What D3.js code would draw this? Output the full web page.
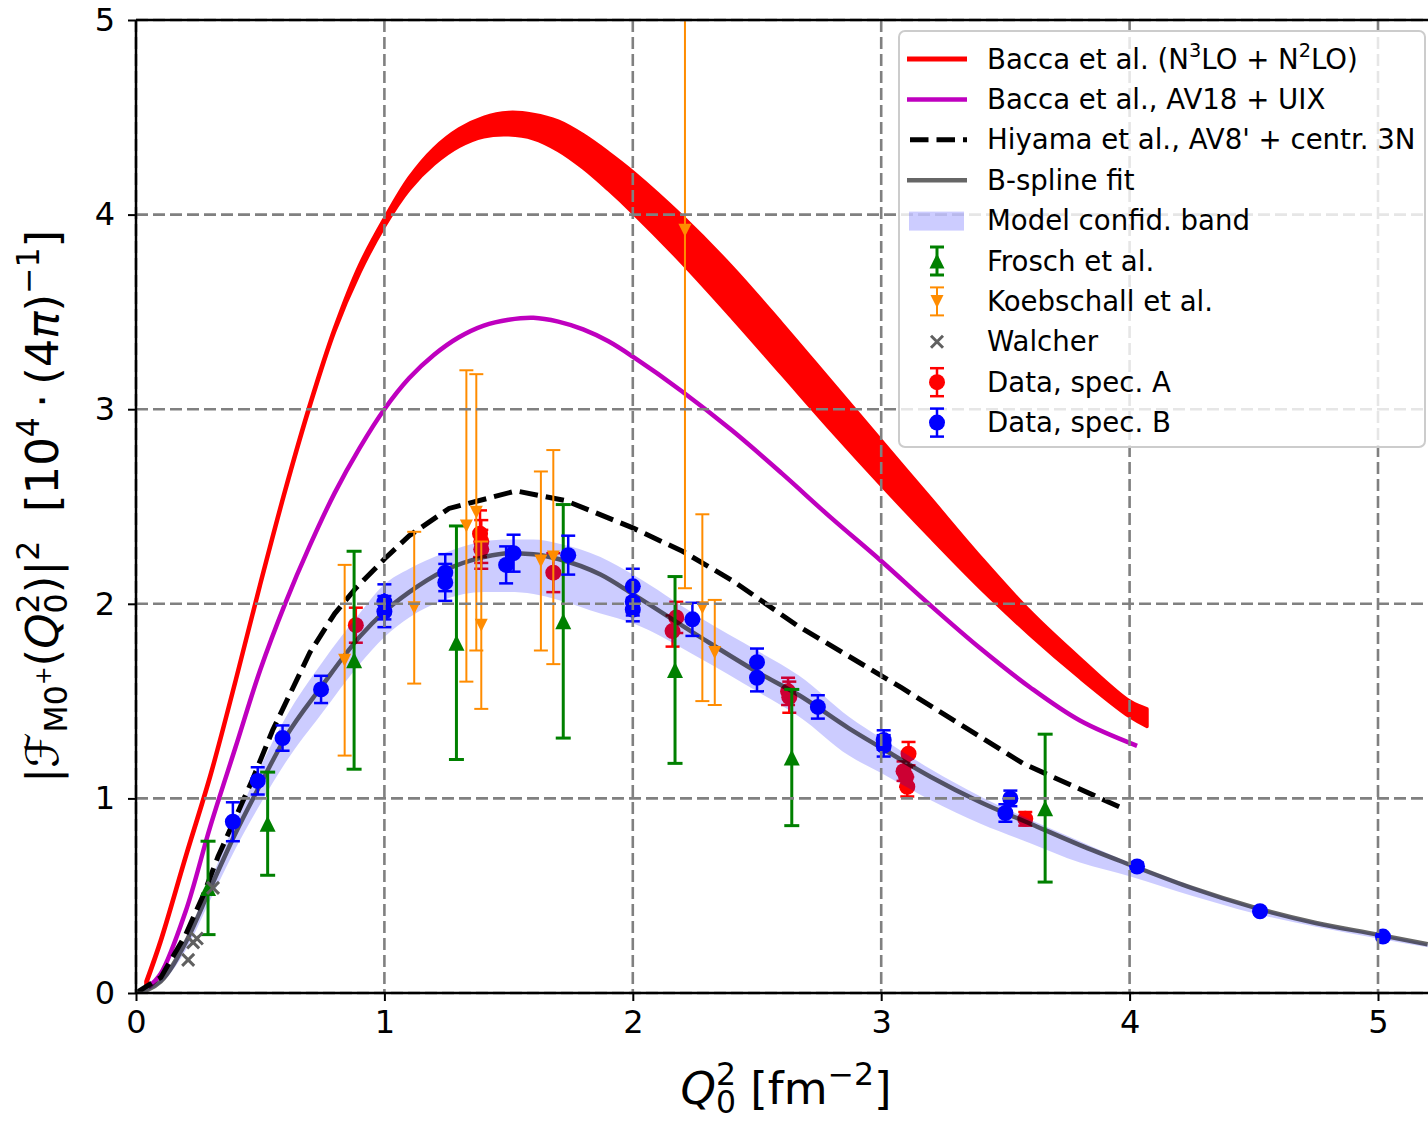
<!DOCTYPE html>
<html><head><meta charset="utf-8">
<script src="https://cdn.jsdelivr.net/npm/d3@7/dist/d3.min.js"></script>
<style>
body{margin:0;background:#fff}
text{font-family:"DejaVu Sans",sans-serif}
</style>
</head><body>
<svg id="c" width="1428" height="1123"></svg>
<script>
// ---------------- data ----------------
const xTicks = [0, 1, 2, 3, 4, 5];
const yTicks = [0, 1, 2, 3, 4, 5];

// Bacca et al. (N3LO + N2LO) band
const baccaX = [0.04,0.1,0.2,0.3,0.4,0.5,0.6,0.7,0.8,0.9,1.0,1.1,1.2,1.3,1.4,1.5,1.6,1.7,1.8,1.9,2.0,2.2,2.4,2.6,2.8,3.0,3.2,3.4,3.6,3.8,4.0,4.07];
const baccaUpper = [0.06,0.28,0.71,1.13,1.61,2.11,2.59,3.03,3.42,3.74,3.98,4.19,4.34,4.44,4.50,4.525,4.515,4.48,4.41,4.32,4.22,3.99,3.73,3.44,3.14,2.84,2.54,2.24,1.96,1.72,1.50,1.46];
const baccaLower = [0.04,0.26,0.69,1.11,1.59,2.09,2.57,3.01,3.40,3.70,3.94,4.13,4.26,4.35,4.40,4.41,4.39,4.33,4.24,4.13,4.01,3.75,3.47,3.18,2.89,2.61,2.34,2.08,1.84,1.62,1.42,1.37];

// Bacca et al., AV18 + UIX
const av18X = [0.05,0.1,0.2,0.3,0.4,0.5,0.6,0.7,0.8,0.9,1.0,1.1,1.2,1.3,1.4,1.5,1.6,1.7,1.8,1.9,2.0,2.2,2.4,2.6,2.8,3.0,3.2,3.4,3.6,3.8,4.03];
const av18Y = [0.03,0.1,0.42,0.86,1.26,1.66,2.0,2.3,2.57,2.8,3.0,3.16,3.28,3.37,3.43,3.46,3.47,3.45,3.41,3.35,3.27,3.09,2.89,2.67,2.44,2.22,1.99,1.77,1.57,1.40,1.27];

// Hiyama et al., AV8' + centr. 3N
const hiyamaX = [0,0.1,0.2,0.27,0.33,0.4,0.47,0.55,0.7,0.8,0.885,1.0,1.1,1.26,1.53,1.73,2.0,2.2,2.4,2.66,3.08,3.57,3.97];
const hiyamaY = [0,0.08,0.3,0.5,0.7,0.9,1.1,1.35,1.75,1.95,2.08,2.23,2.35,2.49,2.58,2.53,2.39,2.27,2.12,1.89,1.57,1.18,0.95];

// B-spline fit and model confidence band
const fitX = [0,0.1,0.2,0.3,0.4,0.5,0.6,0.75,0.9,1.0,1.1,1.24,1.4,1.5,1.6,1.7,1.87,2.0,2.27,2.5,2.67,2.87,3.0,3.2,3.4,3.6,3.8,4.0,4.25,4.5,4.75,5.0,5.2];
const fitY = [0,0.06,0.26,0.54,0.82,1.07,1.31,1.58,1.83,1.96,2.06,2.17,2.24,2.26,2.255,2.23,2.15,2.05,1.83,1.65,1.53,1.36,1.26,1.11,0.98,0.87,0.76,0.66,0.54,0.44,0.36,0.30,0.25];
const bandHigh = [0,0.07,0.28,0.58,0.88,1.16,1.41,1.70,1.95,2.10,2.18,2.26,2.32,2.33,2.33,2.31,2.24,2.15,1.93,1.76,1.63,1.42,1.31,1.15,1.01,0.89,0.78,0.67,0.55,0.445,0.365,0.303,0.253];
const bandLow = [0,0.05,0.22,0.48,0.74,0.97,1.18,1.44,1.69,1.83,1.93,2.02,2.06,2.06,2.05,2.02,1.95,1.90,1.72,1.55,1.42,1.22,1.13,0.99,0.87,0.77,0.67,0.60,0.50,0.41,0.34,0.28,0.235];

// Frosch et al.
const froschX = [0.29,0.53,0.878,1.29,1.72,2.17,2.64,3.66];
const froschY = [0.54,0.87,1.71,1.80,1.91,1.66,1.21,0.95];
const froschErr = [0.24,0.265,0.56,0.6,0.6,0.48,0.35,0.38];

// Koebschall et al.
const koebX = [0.84,1.12,1.33,1.37,1.39,1.63,1.68,2.21,2.28,2.33];
const koebY = [1.71,1.98,2.40,2.47,1.89,2.22,2.24,3.92,1.98,1.75];
const koebErr = [0.49,0.39,0.8,0.71,0.43,0.46,0.55,1.84,0.48,0.27];

// Walcher
const walcherX = [0.21,0.23,0.245,0.31];
const walcherY = [0.17,0.26,0.28,0.54];

// Data, spec. A
const specAX = [0.885,1.385,1.39,1.39,1.68,2.175,2.16,2.625,2.63,3.11,3.09,3.10,3.105,3.58];
const specAY = [1.89,2.36,2.32,2.28,2.16,1.93,1.86,1.55,1.52,1.23,1.14,1.11,1.06,0.895];
const specAErr = [0.09,0.12,0.11,0.1,0.1,0.08,0.08,0.07,0.08,0.06,0.05,0.05,0.05,0.035];

// Data, spec. B
const specBX = [0.39,0.49,0.59,0.745,1.0,1.0,1.245,1.245,1.49,1.52,1.74,2.0,2.0,2.0,2.24,2.5,2.5,2.745,3.01,3.01,3.52,3.5,4.03,4.525,5.02];
const specBY = [0.88,1.09,1.31,1.56,2.01,1.96,2.16,2.11,2.20,2.26,2.25,2.09,2.01,1.97,1.92,1.70,1.62,1.47,1.30,1.27,1.0,0.925,0.65,0.42,0.29];
const specBErr = [0.1,0.07,0.065,0.07,0.09,0.08,0.095,0.095,0.095,0.095,0.1,0.09,0.07,0.06,0.085,0.07,0.07,0.06,0.05,0.055,0.04,0.045,0.02,0.015,0.012];

const legendLabels = ["Bacca et al. (N3LO + N2LO)", "Bacca et al., AV18 + UIX", "Hiyama et al., AV8' + centr. 3N", "B-spline fit", "Model confid. band", "Frosch et al.", "Koebschall et al.", "Walcher", "Data, spec. A", "Data, spec. B"];

// ---------------- layout ----------------
const L = 136, T = 20, B = 993, R = 1428;
const svg = d3.select("#c");
const x = d3.scaleLinear().domain([0, 5.2]).range([L, L + 5.2 * 248.4]);
const y = d3.scaleLinear().domain([0, 5]).range([B, T]);

svg.append("defs").append("clipPath").attr("id", "clip")
  .append("rect").attr("x", L).attr("y", T).attr("width", R - L).attr("height", B - T);
const plot = svg.append("g").attr("clip-path", "url(#clip)");

const zip = (xs, ys) => xs.map((v, i) => [v, ys[i]]);
const CURVE = d3.curveCatmullRom.alpha(0.5);

// Bacca N3LO band
const baccaArea = d3.area().x(d => x(d[0])).y0(d => y(d[1])).y1(d => y(d[2])).curve(CURVE);
plot.append("path").datum(baccaX.map((v, i) => [v, baccaLower[i], baccaUpper[i]]))
  .attr("d", baccaArea).attr("fill", "#ff0000").attr("stroke", "#ff0000").attr("stroke-width", 3.5).attr("stroke-linejoin", "round");

// helpers for errorbars
function errorbars(g, xs, ys, es, color, lw, cap) {
  xs.forEach((xv, i) => {
    const x0 = x(xv), yt = y(ys[i] + es[i]), yb = y(ys[i] - es[i]);
    g.append("line").attr("x1", x0).attr("x2", x0).attr("y1", yt).attr("y2", yb).attr("stroke", color).attr("stroke-width", lw);
    [yt, yb].forEach(yy => g.append("line").attr("x1", x0 - cap).attr("x2", x0 + cap).attr("y1", yy).attr("y2", yy).attr("stroke", color).attr("stroke-width", lw));
  });
}
function triUp(cx, cy, s) { return `M${cx},${cy - s}L${cx - s},${cy + s}L${cx + s},${cy + s}Z`; }
function triDown(cx, cy, s) { return `M${cx},${cy + s}L${cx - s},${cy - s}L${cx + s},${cy - s}Z`; }

// Data spec. A (under the confidence band)
const gA = plot.append("g");
errorbars(gA, specAX, specAY, specAErr, "#ff0000", 2.5, 7);
specAX.forEach((xv, i) => gA.append("circle").attr("cx", x(xv)).attr("cy", y(specAY[i])).attr("r", 8).attr("fill", "#ff0000"));

// confidence band
const bandArea = d3.area().x(d => x(d[0])).y0(d => y(d[1])).y1(d => y(d[2])).curve(d3.curveMonotoneX);
plot.append("path").datum(fitX.map((v, i) => [v, bandLow[i], bandHigh[i]]))
  .attr("d", bandArea).attr("fill", "#0000ff").attr("fill-opacity", 0.2);

// grid
const grid = svg.append("g");
xTicks.forEach(t => grid.append("line").attr("x1", x(t)).attr("x2", x(t)).attr("y1", T).attr("y2", B)
  .attr("stroke", "#808080").attr("stroke-width", 2.6).attr("stroke-dasharray", "12,5"));
yTicks.forEach(t => grid.append("line").attr("x1", L).attr("x2", R).attr("y1", y(t)).attr("y2", y(t))
  .attr("stroke", "#808080").attr("stroke-width", 2.6).attr("stroke-dasharray", "12,5"));

// theory lines
const smooth = d3.line().x(d => x(d[0])).y(d => y(d[1])).curve(CURVE);
const mono = d3.line().x(d => x(d[0])).y(d => y(d[1])).curve(d3.curveMonotoneX);
const straight = d3.line().x(d => x(d[0])).y(d => y(d[1]));
plot.append("path").datum(zip(av18X, av18Y)).attr("d", smooth).attr("fill", "none").attr("stroke", "#bf00bf").attr("stroke-width", 4.5);
plot.append("path").datum(zip(hiyamaX, hiyamaY)).attr("d", straight).attr("fill", "none").attr("stroke", "#000").attr("stroke-width", 5).attr("stroke-dasharray", "18.5,8");
plot.append("path").datum(zip(fitX, fitY)).attr("d", mono).attr("fill", "none").attr("stroke", "#000").attr("stroke-opacity", 0.6).attr("stroke-width", 4.5);

// Frosch
const gF = plot.append("g");
errorbars(gF, froschX, froschY, froschErr, "#008000", 3, 7.5);
froschX.forEach((xv, i) => gF.append("path").attr("d", triUp(x(xv), y(froschY[i]), 8)).attr("fill", "#008000"));

// Koebschall
const gK = plot.append("g");
errorbars(gK, koebX, koebY, koebErr, "#ff8c00", 2, 7);
koebX.forEach((xv, i) => gK.append("path").attr("d", triDown(x(xv), y(koebY[i]), 6.5)).attr("fill", "#ff8c00"));

// Walcher
const gW = plot.append("g");
walcherX.forEach((xv, i) => {
  const cx = x(xv), cy = y(walcherY[i]), s = 6;
  gW.append("path").attr("d", `M${cx - s},${cy - s}L${cx + s},${cy + s}M${cx - s},${cy + s}L${cx + s},${cy - s}`)
    .attr("stroke", "#606060").attr("stroke-width", 3);
});

// Data spec. B
const gB = plot.append("g");
errorbars(gB, specBX, specBY, specBErr, "#0000ff", 2.5, 7);
specBX.forEach((xv, i) => gB.append("circle").attr("cx", x(xv)).attr("cy", y(specBY[i])).attr("r", 8).attr("fill", "#0000ff"));

// ---------------- axes ----------------
const fs = 32;
const xAxis = svg.append("g").attr("transform", `translate(0,${B})`)
  .call(d3.axisBottom(x).tickValues(xTicks).tickFormat(d3.format("d")).tickSize(8).tickPadding(9));
const yAxis = svg.append("g").attr("transform", `translate(${L},0)`)
  .call(d3.axisLeft(y).tickValues(yTicks).tickFormat(d3.format("d")).tickSize(8).tickPadding(13));
[xAxis, yAxis].forEach(a => {
  a.select(".domain").remove();
  a.selectAll(".tick line").attr("stroke", "#000").attr("stroke-width", 2);
  a.selectAll(".tick text").attr("font-size", fs).attr("fill", "#000").attr("font-family", "DejaVu Sans");
});
// spines
svg.append("line").attr("x1", L).attr("x2", R).attr("y1", B).attr("y2", B).attr("stroke", "#000").attr("stroke-width", 2.5);
svg.append("line").attr("x1", L).attr("x2", R).attr("y1", T).attr("y2", T).attr("stroke", "#000").attr("stroke-width", 2.5);
svg.append("line").attr("x1", L).attr("x2", L).attr("y1", T).attr("y2", B).attr("stroke", "#000").attr("stroke-width", 2.5);

// axis labels
const AF = 45, SF = 0.7 * AF;
function addParts(t, parts) {
  parts.forEach(p => {
    const s = t.append("tspan").text(p.t);
    if (p.size) s.attr("font-size", p.size);
    if (p.dy) s.attr("dy", p.dy);
    if (p.dx) s.attr("dx", p.dx);
    if (p.it) s.attr("font-style", "italic");
  });
}
const xl = svg.append("text").attr("x", (L + R) / 2 + 4).attr("y", 1104).attr("text-anchor", "middle").attr("font-size", AF);
addParts(xl, [
  {t: "Q", it: true},
  {t: "2", size: SF, dy: -0.42 * AF},
  {t: "0", size: SF, dx: -0.636 * SF, dy: 0.62 * AF},
  {t: " [fm", dy: -0.2 * AF},
  {t: "\u22122", size: SF, dy: -0.42 * AF},
  {t: "]", dy: 0.42 * AF}
]);
const yl = svg.append("text").attr("transform", `translate(58,${(T + B) / 2}) rotate(-90)`).attr("text-anchor", "middle").attr("font-size", AF);
addParts(yl, [
  {t: "|\u2131"},
  {t: "M0", size: SF, dy: 0.2 * AF},
  {t: "+", size: 0.5 * AF, dy: -0.35 * AF},
  {t: "(", dy: 0.15 * AF},
  {t: "Q", it: true},
  {t: "2", size: SF, dy: -0.42 * AF},
  {t: "0", size: SF, dx: -0.636 * SF, dy: 0.62 * AF},
  {t: ")|", dy: -0.2 * AF},
  {t: "2", size: SF, dy: -0.42 * AF},
  {t: "\u00a0\u00a0[10", dy: 0.42 * AF},
  {t: "4", size: SF, dy: -0.42 * AF},
  {t: "\u2009\u00b7\u2009(4", dy: 0.42 * AF},
  {t: "\u03c0", it: true},
  {t: ")"},
  {t: "\u22121", size: SF, dy: -0.42 * AF},
  {t: "]", dy: 0.42 * AF}
]);

// ---------------- legend ----------------
const lg = svg.append("g");
lg.append("rect").attr("x", 899).attr("y", 31).attr("width", 526).attr("height", 416).attr("rx", 6)
  .attr("fill", "#fff").attr("fill-opacity", 0.8).attr("stroke", "#cccccc").attr("stroke-width", 2);
const rowY = i => 59 + 40.4 * i;
const hx0 = 907, hx1 = 967, hc = 937, tx = 987, LF = 27.6;
legendLabels.forEach((lab, i) => {
  const cy = rowY(i);
  const t = lg.append("text").attr("x", tx).attr("y", cy + 9.5).attr("font-size", LF).attr("fill", "#000");
  if (i === 0) {
    addParts(t, [{t: "Bacca et al. (N"}, {t: "3", size: 0.7 * LF, dy: -0.4 * LF}, {t: "LO + N", dy: 0.4 * LF}, {t: "2", size: 0.7 * LF, dy: -0.4 * LF}, {t: "LO)", dy: 0.4 * LF}]);
  } else t.text(lab);
});
lg.append("line").attr("x1", hx0).attr("x2", hx1).attr("y1", rowY(0)).attr("y2", rowY(0)).attr("stroke", "#ff0000").attr("stroke-width", 5);
lg.append("line").attr("x1", hx0).attr("x2", hx1).attr("y1", rowY(1)).attr("y2", rowY(1)).attr("stroke", "#bf00bf").attr("stroke-width", 4.5);
lg.append("line").attr("x1", hx0 + 3).attr("x2", hx1).attr("y1", rowY(2)).attr("y2", rowY(2)).attr("stroke", "#000").attr("stroke-width", 5).attr("stroke-dasharray", "18.5,8");
lg.append("line").attr("x1", hx0).attr("x2", hx1).attr("y1", rowY(3)).attr("y2", rowY(3)).attr("stroke", "#000").attr("stroke-opacity", 0.6).attr("stroke-width", 4.5);
lg.append("rect").attr("x", 909).attr("y", rowY(4) - 9).attr("width", 55).attr("height", 19).attr("fill", "#0000ff").attr("fill-opacity", 0.2);
function legErr(cy, color, lw) {
  lg.append("line").attr("x1", hc).attr("x2", hc).attr("y1", cy - 14).attr("y2", cy + 14).attr("stroke", color).attr("stroke-width", lw);
  [cy - 14, cy + 14].forEach(yy => lg.append("line").attr("x1", hc - 7).attr("x2", hc + 7).attr("y1", yy).attr("y2", yy).attr("stroke", color).attr("stroke-width", lw));
}
legErr(rowY(5), "#008000", 3); lg.append("path").attr("d", triUp(hc, rowY(5), 7.5)).attr("fill", "#008000");
legErr(rowY(6), "#ff8c00", 2); lg.append("path").attr("d", triDown(hc, rowY(6), 6.5)).attr("fill", "#ff8c00");
{ const cy = rowY(7), s = 6; lg.append("path").attr("d", `M${hc - s},${cy - s}L${hc + s},${cy + s}M${hc - s},${cy + s}L${hc + s},${cy - s}`).attr("stroke", "#606060").attr("stroke-width", 3); }
legErr(rowY(8), "#ff0000", 2.5); lg.append("circle").attr("cx", hc).attr("cy", rowY(8)).attr("r", 8).attr("fill", "#ff0000");
legErr(rowY(9), "#0000ff", 2.5); lg.append("circle").attr("cx", hc).attr("cy", rowY(9)).attr("r", 8).attr("fill", "#0000ff");
</script>
</body></html>
